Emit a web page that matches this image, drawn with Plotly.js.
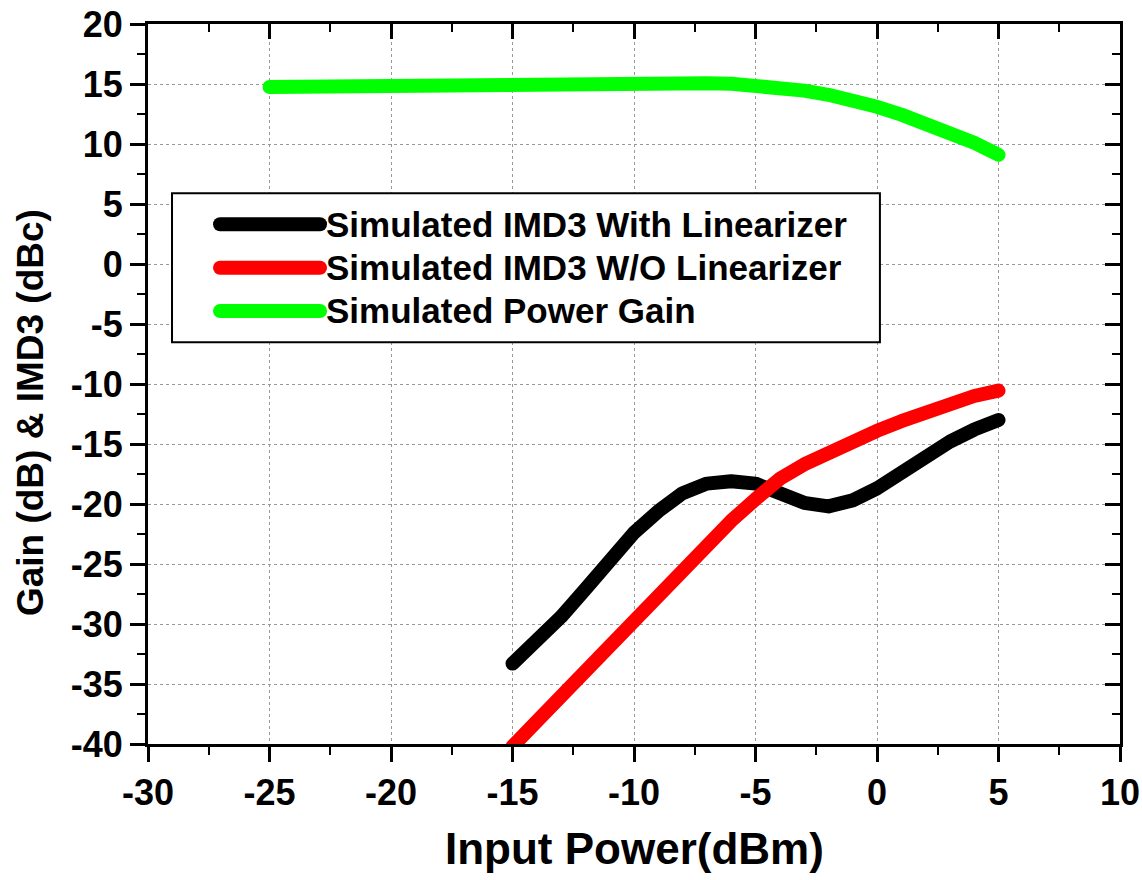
<!DOCTYPE html>
<html>
<head>
<meta charset="utf-8">
<script src="https://cdn.plot.ly/plotly-3.0.1.min.js"></script>
<style>
  html, body { margin: 0; padding: 0; background: #fff; }
  #chart { width: 1142px; height: 880px; }
  .scatterlayer .js-line { stroke-linecap: round; stroke-linejoin: round; }
  .shapelayer path { stroke-linecap: round; }
</style>
</head>
<body>
<div id="chart"></div>
<script>
// ---- Data ----
const inputPowerGain = [-25,-24,-23,-22,-21,-20,-19,-18,-17,-16,-15,-14,-13,-12,-11,-10,-9,-8,-7,-6,-5,-4,-3,-2,-1,0,1,2,3,4,5];
const powerGain = [14.75,14.78,14.8,14.82,14.84,14.86,14.88,14.9,14.92,14.94,14.96,14.98,15.0,15.02,15.04,15.05,15.07,15.08,15.07,15.02,14.9,14.7,14.45,14.1,13.65,13.1,12.45,11.75,11.0,10.1,9.1];

const inputPowerIMD = [-15,-14,-13,-12,-11,-10,-9,-8,-7,-6,-5,-4,-3,-2,-1,0,1,2,3,4,5];
const imd3With = [-33.3,-31.4,-29.4,-27.1,-24.6,-22.4,-20.6,-19.1,-18.3,-18.1,-18.3,-19.2,-19.9,-20.2,-19.7,-18.7,-17.3,-16.0,-14.8,-13.8,-13.0];
const imd3Without = [-40.2,-38.1,-36.0,-33.9,-31.8,-29.6,-27.4,-25.2,-23.2,-21.4,-19.6,-17.9,-16.7,-15.7,-14.7,-13.9,-13.1,-12.3,-11.6,-11.0,-10.55];

const seriesNames = ['Simulated IMD3 With Linearizer','Simulated IMD3 W/O Linearizer','Simulated Power Gain'];
const seriesColors = ['#000000','#ff0000','#00ff00'];
const xTickVals = [-30,-25,-20,-15,-10,-5,0,5,10];
const xTickText = ['-30','-25','-20','-15','-10','-5','0','5','10'];
const yTickVals = [-40,-35,-30,-25,-20,-15,-10,-5,0,5,10,15,20];
const yTickText = ['-40','-35','-30','-25','-20','-15','-10','-5','0','5','10','15','20'];
const xTitle = 'Input Power(dBm)';
const yTitle = 'Gain (dB) & IMD3 (dBc)';

// ---- Layout constants ----
const FONT = 'Liberation Sans, Arial, Helvetica, sans-serif';
const LW = 14;

const traces = [
  {x: inputPowerIMD, y: imd3With, name: seriesNames[0], mode: 'lines', line: {color: seriesColors[0], width: LW}, hoverinfo: 'skip'},
  {x: inputPowerIMD, y: imd3Without, name: seriesNames[1], mode: 'lines', line: {color: seriesColors[1], width: LW}, hoverinfo: 'skip'},
  {x: inputPowerGain, y: powerGain, name: seriesNames[2], mode: 'lines', line: {color: seriesColors[2], width: LW}, hoverinfo: 'skip'},
  {x: [null], y: [null], xaxis: 'x2', yaxis: 'y2', mode: 'lines', showlegend: false, hoverinfo: 'skip'}
];

const tickFont = {family: FONT, size: 36, color: '#000', weight: 'bold'};

const baseAxis = {
  showline: true, linecolor: '#000', linewidth: 3,
  ticks: 'outside', ticklen: 15, tickwidth: 3, tickcolor: '#000',
  zeroline: false, tickfont: tickFont, tickmode: 'array',
  minor: {ticks: 'outside', ticklen: 8, tickwidth: 2, tickcolor: '#000', dtick: 2.5, tick0: 0, showgrid: false}
};

// legend geometry in paper coords
const legBox = {x0: 0.0247, x1: 0.753, y0: 0.558, y1: 0.765};
const legRows = [0.7218, 0.6615, 0.6014];
const legLineX = [0.0741, 0.177];
const legTextX = 0.181;

const shapes = [
  {type: 'rect', xref: 'paper', yref: 'paper', x0: legBox.x0, x1: legBox.x1, y0: legBox.y0, y1: legBox.y1,
   line: {color: '#000', width: 2}, fillcolor: '#fff', layer: 'above'}
];
const annotations = [];
seriesNames.forEach((n, i) => {
  shapes.push({type: 'line', xref: 'paper', yref: 'paper', x0: legLineX[0], x1: legLineX[1], y0: legRows[i], y1: legRows[i],
    line: {color: seriesColors[i], width: LW}, layer: 'above'});
  annotations.push({xref: 'paper', yref: 'paper', x: legTextX, y: legRows[i], xanchor: 'left', yanchor: 'middle',
    text: n, showarrow: false, font: {family: FONT, size: 35, color: '#000', weight: 'bold'}});
});
annotations.push({xref: 'paper', yref: 'paper', x: 0.5, y: -0.145, xanchor: 'center', yanchor: 'middle',
  text: xTitle, showarrow: false, font: {family: FONT, size: 44, color: '#000', weight: 'bold'}});
annotations.push({xref: 'paper', yref: 'paper', x: -0.1214, y: 0.461, xanchor: 'center', yanchor: 'middle',
  text: yTitle, textangle: -90, showarrow: false, font: {family: FONT, size: 37, color: '#000', weight: 'bold'}});

const layout = {
  width: 1142, height: 880,
  margin: {l: 148, r: 22, t: 24, b: 136, pad: 0},
  paper_bgcolor: '#fff', plot_bgcolor: '#fff',
  showlegend: false,
  font: {family: FONT, color: '#000'},
  xaxis: Object.assign({}, baseAxis, {
    range: [-30, 10], tickvals: xTickVals, ticktext: xTickText,
    showgrid: true, gridcolor: '#999', griddash: 'dot', gridwidth: 1
  }),
  yaxis: Object.assign({}, baseAxis, {
    range: [-40, 20], tickvals: yTickVals, ticktext: yTickText,
    showgrid: true, gridcolor: '#999', griddash: 'dot', gridwidth: 1
  }),
  xaxis2: {
    overlaying: 'x', side: 'top', range: [-30, 10], dtick: 5, tick0: 0,
    showline: true, linecolor: '#000', linewidth: 3,
    ticks: 'inside', ticklen: 15, tickwidth: 3, tickcolor: '#000',
    showticklabels: false, showgrid: false, zeroline: false,
    minor: {ticks: 'inside', ticklen: 8, tickwidth: 2, tickcolor: '#000', dtick: 2.5, showgrid: false}
  },
  yaxis2: {
    overlaying: 'y', side: 'right', range: [-40, 20], dtick: 5, tick0: 0,
    showline: true, linecolor: '#000', linewidth: 3,
    ticks: 'inside', ticklen: 15, tickwidth: 3, tickcolor: '#000',
    showticklabels: false, showgrid: false, zeroline: false,
    minor: {ticks: 'inside', ticklen: 8, tickwidth: 2, tickcolor: '#000', dtick: 2.5, showgrid: false}
  },
  shapes: shapes,
  annotations: annotations
};

Plotly.newPlot('chart', traces, layout, {staticPlot: true, displayModeBar: false});
</script>
</body>
</html>
